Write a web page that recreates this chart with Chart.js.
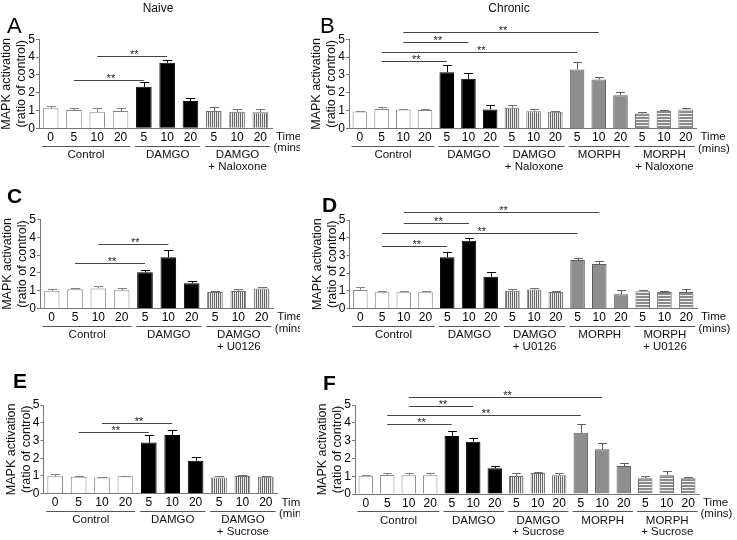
<!DOCTYPE html>
<html><head><meta charset="utf-8">
<script src="https://cdn.jsdelivr.net/npm/chart.js@4.4.1/dist/chart.umd.min.js"></script>
<style>
html,body{margin:0;padding:0;background:#fff;}
#wrap{position:relative;width:737px;height:540px;overflow:hidden;background:#fff;}
canvas{position:absolute;}
</style></head><body><div id="wrap"></div>
<script>
const FONT = '"Liberation Sans", Arial, Helvetica, sans-serif';

// ---------- tick labels / categories ----------
const tickLabelsNaive   = ['0','5','10','20','5','10','20','5','10','20'];
const tickLabelsChronic = ['0','5','10','20','5','10','20','5','10','20','5','10','20','5','10','20'];
const groupSizesNaive   = [4,3,3];
const groupSizesChronic = [4,3,3,3,3];
const groupStylesNaive   = ['ctrl','damgo','damgoX'];
const groupStylesChronic = ['ctrl','damgo','damgoX','morph','morphX'];

const groupNamesA = [['Control'],['DAMGO'],['DAMGO','+ Naloxone']];
const groupNamesB = [['Control'],['DAMGO'],['DAMGO','+ Naloxone'],['MORPH'],['MORPH','+ Naloxone']];
const groupNamesC = [['Control'],['DAMGO'],['DAMGO','+ U0126']];
const groupNamesD = [['Control'],['DAMGO'],['DAMGO','+ U0126'],['MORPH'],['MORPH','+ U0126']];
const groupNamesE = [['Control'],['DAMGO'],['DAMGO','+ Sucrose']];
const groupNamesF = [['Control'],['DAMGO'],['DAMGO','+ Sucrose'],['MORPH'],['MORPH','+ Sucrose']];

// ---------- values (ratio of control) and SEM ----------
const valuesA = [1.12,1.03,0.90,0.97, 2.33,3.68,1.53, 0.97,0.93,0.90];
const semA    = [0.15,0.13,0.22,0.15, 0.25,0.15,0.15, 0.21,0.14,0.17];

const valuesB = [0.95,1.10,1.06,1.04, 3.16,2.79,1.07, 1.16,0.97,0.94, 3.31,2.75,1.87, 0.84,1.00,1.07];
const semB    = [0.02,0.11,0.04,0.05, 0.38,0.34,0.22, 0.17,0.10,0.05, 0.39,0.15,0.19, 0.10,0.06,0.09];

const valuesC = [0.97,1.08,1.13,1.02, 2.03,2.88,1.42, 0.93,0.98,1.13];
const semC    = [0.14,0.09,0.15,0.13, 0.13,0.41,0.12, 0.07,0.12,0.08];

const valuesD = [1.05,0.92,0.92,0.92, 2.89,3.83,1.80, 1.00,1.08,0.93, 2.74,2.51,0.80, 0.97,0.93,0.93];
const semD    = [0.15,0.05,0.05,0.05, 0.30,0.18,0.24, 0.08,0.10,0.04, 0.14,0.20,0.25, 0.08,0.04,0.15];

const valuesE = [0.98,0.96,0.92,0.98, 2.88,3.31,1.86, 0.92,1.00,0.96];
const semE    = [0.11,0.02,0.04,0.04, 0.41,0.28,0.23, 0.10,0.04,0.04];

const valuesF = [1.03,1.07,1.05,1.05, 3.26,2.94,1.44, 1.01,1.18,1.05, 3.44,2.51,1.57, 0.88,1.05,0.88];
const semF    = [0.02,0.09,0.11,0.11, 0.26,0.19,0.15, 0.15,0.07,0.11, 0.47,0.34,0.15, 0.15,0.26,0.09];

// significance brackets: [fromIndex, toIndex, level (data units)]
const sigA = [[1,4,2.70],[2,5,4.05]];
const sigB = [[1,4,3.76],[1,10,4.29],[2,5,4.85],[2,11,5.41]];
const sigC = [[1,4,2.53],[2,5,3.60]];
const sigD = [[1,4,3.53],[1,10,4.25],[2,5,4.85],[2,11,5.44]];
const sigE = [[1,4,3.50],[2,5,4.00]];
const sigF = [[1,4,3.93],[1,10,4.44],[2,5,4.96],[2,11,5.47]];

// ---------- styles ----------
function stripePattern(dir){
  const c = document.createElement('canvas');
  const cx = c.getContext('2d');
  if (dir === 'v') {
    c.width = 2; c.height = 2;
    cx.fillStyle = '#ececec'; cx.fillRect(0,0,2,2);
    cx.fillStyle = '#666666'; cx.fillRect(0,0,1,2);
  } else {
    c.width = 3; c.height = 3;
    cx.fillStyle = '#f2f2f2'; cx.fillRect(0,0,3,3);
    cx.fillStyle = '#8a8a8a'; cx.fillRect(0,0,3,2);
  }
  return cx.createPattern(c,'repeat');
}
const STY = {
  ctrl:   {bg:'#ffffff', bd:'#858585', err:'#858585'},
  damgo:  {bg:'#000000', bd:'#000000', err:'#000000'},
  damgoX: {bg:null, pat:'v', bd:'#707070', err:'#707070'},
  morph:  {bg:'#8e8e8e', bd:'#5c5c5c', err:'#5c5c5c'},
  morphX: {bg:null, pat:'h', bd:'#666666', err:'#666666'}
};

// ---------- panel layout (page coordinates) ----------
const panels = [
  {letter:'A', bold:false, lp:[7,33],   header:['Naive',158,9],   cv:[0,0,300,176],   area:[39,39.3,272,128.3],
   ticks:tickLabelsNaive, sizes:groupSizesNaive, styles:groupStylesNaive, groups:groupNamesA, values:valuesA, sem:semA, sig:sigA},
  {letter:'B', bold:false, lp:[320,33], header:['Chronic',509,9], cv:[300,0,437,176], area:[349,39.3,696.5,128.5],
   ticks:tickLabelsChronic, sizes:groupSizesChronic, styles:groupStylesChronic, groups:groupNamesB, values:valuesB, sem:semB, sig:sigB},
  {letter:'C', bold:true, lp:[7,203],   header:null, cv:[0,176,300,180],   area:[40,219.5,273.3,308.5],
   ticks:tickLabelsNaive, sizes:groupSizesNaive, styles:groupStylesNaive, groups:groupNamesC, values:valuesC, sem:semC, sig:sigC},
  {letter:'D', bold:true, lp:[322,212], header:null, cv:[300,176,437,180], area:[349.5,220,697,308.5],
   ticks:tickLabelsChronic, sizes:groupSizesChronic, styles:groupStylesChronic, groups:groupNamesD, values:valuesD, sem:semD, sig:sigD},
  {letter:'E', bold:true, lp:[13,388],  header:null, cv:[0,356,300,184],   area:[43.5,405,277.5,493.7],
   ticks:tickLabelsNaive, sizes:groupSizesNaive, styles:groupStylesNaive, groups:groupNamesE, values:valuesE, sem:semE, sig:sigE},
  {letter:'F', bold:true, lp:[323,390], header:null, cv:[300,356,437,184], area:[355,405,699,494],
   ticks:tickLabelsChronic, sizes:groupSizesChronic, styles:groupStylesChronic, groups:groupNamesF, values:valuesF, sem:semF, sig:sigF}
];

const wrap = document.getElementById('wrap');
const BAR_FRAC = 0.67;

function styleList(p){
  const out = [];
  p.sizes.forEach((n,g)=>{ for(let k=0;k<n;k++) out.push(p.styles[g]); });
  return out;
}

function makePlugin(p, ox, oy, stList){
  return {
    id:'deco'+p.letter,
    afterDatasetsDraw(chart){
      const ctx = chart.ctx, ys = chart.scales.y;
      const meta = chart.getDatasetMeta(0);
      const bw = (chart.chartArea.right-chart.chartArea.left)/p.values.length*BAR_FRAC;
      const cap = bw*0.3;
      ctx.save();
      ctx.lineWidth = 1;
      meta.data.forEach((bar,i)=>{
        const top = ys.getPixelForValue(p.values[i]);
        const et = Math.round(ys.getPixelForValue(p.values[i]+p.sem[i]))+0.5;
        const x = Math.round(bar.x)+0.5;
        ctx.strokeStyle = STY[stList[i]].err;
        ctx.beginPath();
        ctx.moveTo(x, top); ctx.lineTo(x, et);
        ctx.moveTo(x-cap, et); ctx.lineTo(x+cap, et);
        ctx.stroke();
      });
      ctx.restore();
    },
    afterDraw(chart){
      const ctx = chart.ctx, xs = chart.scales.x, ys = chart.scales.y;
      const A = chart.chartArea;
      const n = p.values.length;
      const cw = (A.right-A.left)/n, bw = cw*BAR_FRAC;
      ctx.save();
      // group underlines + labels
      let idx = 0;
      p.sizes.forEach((sz,g)=>{
        const x1 = xs.getPixelForValue(idx) - bw/2 - 1;
        const x2 = xs.getPixelForValue(idx+sz-1) + bw/2 + 2;
        const ly = Math.round(A.bottom + 17.4)+0.5;
        ctx.strokeStyle = '#555'; ctx.lineWidth = 1;
        ctx.beginPath(); ctx.moveTo(x1, ly); ctx.lineTo(x2, ly); ctx.stroke();
        ctx.fillStyle = '#111';
        ctx.font = '11.5px ' + FONT;
        ctx.textAlign = 'center'; ctx.textBaseline = 'middle';
        const cx = (x1+x2)/2;
        p.groups[g].forEach((t,li)=>{
          ctx.fillText(t, cx, A.bottom + 26.5 + li*11.8);
        });
        idx += sz;
      });
      // Time (mins)
      ctx.textAlign = 'left';
      ctx.font = '11.5px ' + FONT;
      ctx.fillText('Time', A.right + 4, A.bottom + 8.7);
      ctx.fillText('(mins)', A.right + 1.5, A.bottom + 20);
      // significance brackets
      p.sig.forEach(s=>{
        const x1 = xs.getPixelForValue(s[0]);
        const x2 = xs.getPixelForValue(s[1]);
        const y = Math.round(ys.getPixelForValue(s[2]))+0.5;
        ctx.strokeStyle = '#444'; ctx.lineWidth = 1;
        ctx.beginPath(); ctx.moveTo(x1, y); ctx.lineTo(x2, y); ctx.stroke();
        ctx.fillStyle = '#222';
        ctx.font = '11px ' + FONT;
        ctx.textAlign = 'center'; ctx.textBaseline = 'alphabetic';
        ctx.fillText('**', (x1+x2)/2 + 2, y + 1.5);
      });
      // y-axis title (two lines, rotated)
      ctx.fillStyle = '#111';
      ctx.font = '12.5px ' + FONT;
      ctx.textAlign = 'center'; ctx.textBaseline = 'middle';
      const cy = (A.top + A.bottom)/2;
      [['MAPK activation', A.left - 32], ['(ratio of control)', A.left - 17]].forEach(([t,x])=>{
        ctx.save(); ctx.translate(x, cy); ctx.rotate(-Math.PI/2); ctx.fillText(t, 0, 0); ctx.restore();
      });
      // panel letter
      ctx.fillStyle = '#000';
      ctx.font = (p.bold ? 'bold 21px ' : '22px ') + FONT;
      ctx.textAlign = 'left'; ctx.textBaseline = 'alphabetic';
      ctx.fillText(p.letter, p.lp[0]-ox, p.lp[1]-oy);
      // header
      if (p.header){
        ctx.font = '12px ' + FONT;
        ctx.textAlign = 'center'; ctx.textBaseline = 'middle';
        ctx.fillStyle = '#111';
        ctx.fillText(p.header[0], p.header[1]-ox, p.header[2]-oy);
      }
      ctx.restore();
    }
  };
}

panels.forEach(p=>{
  const [ox,oy,W,H] = p.cv;
  const [L,T,R,B] = p.area;
  const cv = document.createElement('canvas');
  cv.width = W; cv.height = H;
  cv.style.left = ox+'px'; cv.style.top = oy+'px';
  cv.style.width = W+'px'; cv.style.height = H+'px';
  wrap.appendChild(cv);
  const stList = styleList(p);
  const bgs = stList.map(s => STY[s].pat ? null : STY[s].bg);
  const patV = stripePattern('v'), patH = stripePattern('h');
  stList.forEach((s,i)=>{ if (STY[s].pat==='v') bgs[i]=patV; if (STY[s].pat==='h') bgs[i]=patH; });
  const yW = L - ox, padTop = T - oy, padRight = (ox+W) - R, xH = (oy+H) - B;
  new Chart(cv, {
    type:'bar',
    data:{
      labels: p.ticks,
      datasets:[{
        data: p.values,
        backgroundColor: bgs,
        borderColor: stList.map(s=>STY[s].bd),
        borderWidth: 1,
        barPercentage: BAR_FRAC,
        categoryPercentage: 1.0
      }]
    },
    options:{
      responsive:false, animation:false, devicePixelRatio:1,
      layout:{padding:{left:0, top:padTop, right:padRight, bottom:0}},
      plugins:{legend:{display:false}, tooltip:{enabled:false}, title:{display:false}},
      scales:{
        x:{
          type:'category',
          grid:{display:false, drawTicks:false},
          border:{display:true, color:'#777', width:1},
          ticks:{color:'#000', font:{family:FONT, size:12}, padding:2, autoSkip:false, maxRotation:0, minRotation:0},
          afterFit(s){ s.height = xH; }
        },
        y:{
          min:0, max:5,
          grid:{drawOnChartArea:false, drawTicks:true, tickLength:3, color:'#777'},
          border:{display:true, color:'#777', width:1},
          ticks:{stepSize:1, color:'#000', font:{family:FONT, size:12}, padding:1},
          afterFit(s){ s.width = yW; }
        }
      }
    },
    plugins:[makePlugin(p, ox, oy, stList)]
  });
});
</script>
</body></html>
